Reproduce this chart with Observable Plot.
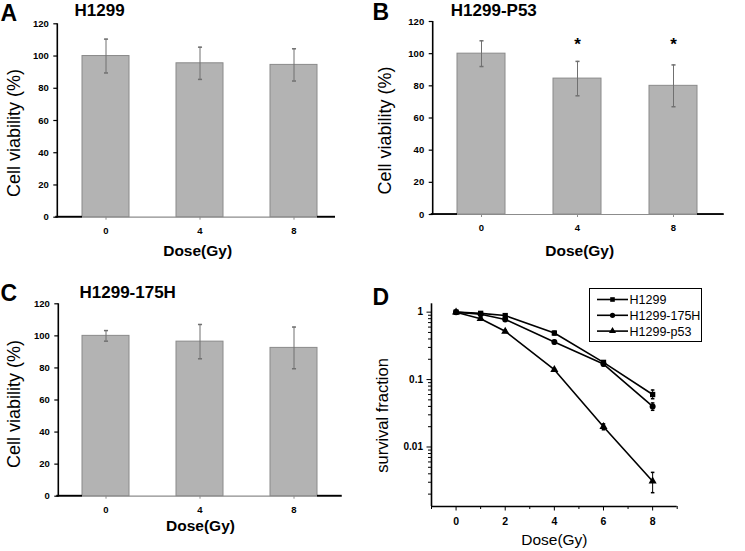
<!DOCTYPE html>
<html><head><meta charset="utf-8">
<script src="https://cdn.jsdelivr.net/npm/d3@7"></script>
<script src="https://cdn.jsdelivr.net/npm/@observablehq/plot@0.6"></script>
<style>
body{margin:0;background:#fff;}
#fig{position:relative;width:745px;height:551px;font-family:"Liberation Sans",Arial,sans-serif;background:#fff;overflow:hidden;}
.panel{position:absolute;}
#legend{position:absolute;left:589px;top:288px;width:111px;height:52px;border:1.3px solid #000;background:#fff;}
</style></head><body><div id="fig"></div>
<script>
// ---- data: bar panels ----
const doses = ["0", "4", "8"];
const viabA = [100, 95.5, 94.5];
const errA = [10.5, 10, 10];
const viabB = [100, 84.5, 80];
const errB = [8, 10.7, 13];
const sigB = ["", "*", "*"];
const sigLevel = 110;
const viabC = [100, 96.4, 92.5];
const errC = [3.3, 10.7, 13];
const yTicksBar = [0, 20, 40, 60, 80, 100, 120];

// ---- data: survival panel ----
const dosesD = [0, 1, 2, 4, 6, 8];
const seriesNames = ["H1299", "H1299-175H", "H1299-p53"];
const seriesSymbols = ["square", "circle", "triangle"];
const sfH1299 = [1, 0.96, 0.89, 0.49, 0.18, 0.06];
const loH1299 = [0.95, 0.93, 0.85, 0.46, 0.17, 0.052];
const hiH1299 = [1.05, 0.99, 0.93, 0.52, 0.19, 0.07];
const sf175H = [1, 0.93, 0.78, 0.36, 0.17, 0.04];
const lo175H = [0.96, 0.9, 0.75, 0.34, 0.16, 0.035];
const hi175H = [1.04, 0.96, 0.81, 0.38, 0.18, 0.045];
const sfP53 = [1, 0.80, 0.52, 0.14, 0.02, 0.0031];
const loP53 = [0.95, 0.77, 0.5, 0.135, 0.018, 0.0021];
const hiP53 = [1.06, 0.83, 0.54, 0.145, 0.022, 0.0042];
const xTicksD = [0, 2, 4, 6, 8];
const xMinorD = [-1, 1, 3, 5, 7, 9];
const yTicksD = [1, 0.1, 0.01];

const FONT = "Liberation Sans, Arial, Helvetica, sans-serif";
const capSymbol = {draw(ctx, size) { const w = Math.sqrt(size); ctx.moveTo(-w / 2, 0); ctx.lineTo(w / 2, 0); }};

function axisLinesBar() {
  return (index, scales, values, dims) => {
    const {marginLeft: ml, marginTop: mt, marginBottom: mb, marginRight: mr, width, height} = dims;
    const g = d3.create("svg:g");
    const y0 = height - mb;
    g.append("line").attr("x1", ml).attr("x2", ml).attr("y1", mt).attr("y2", y0 + 0.8)
      .attr("stroke", "#000").attr("stroke-width", 1.6);
    const step = scales.x(doses[1]) - scales.x(doses[0]);
    const bw = step / 2;
    g.append("line").attr("x1", ml - 2).attr("x2", scales.x(doses[0])).attr("y1", y0).attr("y2", y0)
      .attr("stroke", "#000").attr("stroke-width", 1.8);
    g.append("line").attr("x1", scales.x(doses[2]) + bw).attr("x2", width - mr).attr("y1", y0).attr("y2", y0)
      .attr("stroke", "#000").attr("stroke-width", 1.8);
    return g.node();
  };
}

function barPanel(o) {
  const data = doses.map((d, i) => ({dose: d, v: o.values[i], e: o.errs[i], s: o.sig ? o.sig[i] : ""}));
  const marks = [
    Plot.ruleY([0], {stroke: "#8c8c8c", strokeWidth: 1.2}),
    Plot.barY(data, {x: "dose", y: "v", fill: "#b3b3b3", stroke: "#8a8a8a", strokeWidth: 1}),
    Plot.ruleX(data, {x: "dose", y1: d => d.v - d.e, y2: d => d.v + d.e, stroke: "#707070", strokeWidth: 1}),
    Plot.dot(data, {x: "dose", y: d => d.v + d.e, symbol: capSymbol, r: 2.3, stroke: "#707070", fill: "none"}),
    Plot.dot(data, {x: "dose", y: d => d.v - d.e, symbol: capSymbol, r: 2.3, stroke: "#707070", fill: "none"}),
    Plot.axisY({ticks: yTicksBar, tickSize: 4, tickPadding: 5, fontSize: 9.5, fontWeight: "bold", stroke: "#000", strokeWidth: 1.2, fill: "#000", label: null}),
    Plot.axisX({tickSize: 3, tickPadding: 7, fontSize: 9.5, fontWeight: "bold", stroke: "#8c8c8c", fill: "#000", label: null}),
    axisLinesBar(),
    Plot.text([o.yTitle], {frameAnchor: "left", rotate: -90, dx: o.ytDx, dy: o.ytDy, fontSize: 18, fill: "#000", textAnchor: "middle", lineAnchor: "middle"}),
    Plot.text(["Dose(Gy)"], {frameAnchor: "bottom", dx: o.xtDx, dy: o.xtDy, fontSize: 15.5, fontWeight: "bold", fill: "#000", lineAnchor: "middle"}),
    Plot.text([o.letter], {frameAnchor: "top-left", dx: o.lDx, dy: o.lDy, fontSize: 23, fontWeight: "bold", fill: "#000", textAnchor: "start", lineAnchor: "top"}),
    Plot.text([o.title], {frameAnchor: "top-left", dx: o.tDx, dy: o.tDy, fontSize: 17, fontWeight: "bold", fill: "#000", textAnchor: "start", lineAnchor: "top"})
  ];
  if (o.sig) marks.push(Plot.text(data, {x: "dose", y: () => sigLevel, text: "s", fontSize: 17, fontWeight: "bold", fill: "#000", lineAnchor: "top"}));
  return Plot.plot({
    width: o.width, height: o.height,
    marginLeft: o.ml, marginTop: o.mt, marginBottom: o.mb, marginRight: o.mr,
    style: {fontFamily: FONT, background: "transparent", overflow: "visible", color: "#000"},
    x: {type: "band", domain: doses, range: o.xr, paddingInner: 0.5, paddingOuter: 0.25, axis: null},
    y: {domain: [0, 120], axis: null},
    marks
  });
}

const fig = document.getElementById("fig");
function place(node, left, top) {
  node.classList.add("panel");
  node.style.left = left + "px"; node.style.top = top + "px";
  node.style.maxWidth = "none";
  fig.appendChild(node);
}

place(barPanel({values: viabA, errs: errA, letter: "A", title: "H1299", yTitle: "Cell viability (%)",
  width: 372, height: 270, ml: 57.3, mt: 23.3, mb: 53.3, mr: 37, xr: [57.3, 341.7],
  ytDx: -44, ytDy: 12.5, xtDx: 1, xtDy: 33.5, lDx: -57.3, lDy: -18.8, tDx: 16.7, tDy: -20.3}), 0, 0);

place(barPanel({values: viabB, errs: errB, sig: sigB, letter: "B", title: "H1299-P53", yTitle: "Cell viability (%)",
  width: 373, height: 270, ml: 60.7, mt: 21, mb: 56, mr: 21.3, xr: [60.7, 349.6],
  ytDx: -47.5, ytDy: 12.5, xtDx: 1, xtDy: 36.5, lDx: -60.7, lDy: -18, tDx: 17.6, tDy: -17.7}), 372, 0);

place(barPanel({values: viabC, errs: errC, letter: "C", title: "H1299-175H", yTitle: "Cell viability (%)",
  width: 372, height: 281, ml: 58.3, mt: 33.3, mb: 55.3, mr: 30.3, xr: [57.3, 341.7],
  ytDx: -45, ytDy: 4, xtDx: 0, xtDy: 30, lDx: -58.3, lDy: -19.3, tDx: 20.7, tDy: -18.3}), 0, 270);

// ---- panel D ----
const seriesY = [sfH1299, sf175H, sfP53];
const seriesLo = [loH1299, lo175H, loP53];
const seriesHi = [hiH1299, hi175H, hiP53];
const dData = [];
seriesNames.forEach((name, k) => dosesD.forEach((x, i) => dData.push({
  name, sym: seriesSymbols[k], x, y: seriesY[k][i], lo: seriesLo[k][i], hi: seriesHi[k][i]})));
const yDomD = [0.00131, 1.33];
const yMinorD = [];
[0.001, 0.01, 0.1, 1].forEach(b => [2,3,4,5,6,7,8,9].forEach(k => { const v = k * b; if (v > yDomD[0] && v < yDomD[1]) yMinorD.push(v); }));

const plotD = Plot.plot({
  width: 373, height: 281, marginLeft: 59, marginTop: 33.3, marginBottom: 45, marginRight: 68.3,
  style: {fontFamily: FONT, background: "transparent", overflow: "visible", color: "#000"},
  x: {domain: [-1, 9], axis: null},
  y: {type: "log", domain: yDomD, axis: null},
  symbol: {domain: seriesNames, range: seriesSymbols},
  marks: [
    Plot.ruleX([-1], {stroke: "#000", strokeWidth: 1.6}),
    Plot.ruleY([yDomD[0]], {stroke: "#000", strokeWidth: 1.6}),
    Plot.axisY({ticks: yTicksD, tickFormat: d => String(d), tickSize: 4.5, tickPadding: 4, fontSize: 10, fontWeight: "bold", stroke: "#000", fill: "#000", label: null}),
    Plot.axisY({ticks: yMinorD, tickFormat: () => "", tickSize: 3, stroke: "#000", label: null}),
    Plot.axisX({ticks: xTicksD, tickSize: 4.5, tickPadding: 7, fontSize: 10.5, fontWeight: "bold", stroke: "#000", fill: "#000", label: null}),
    Plot.axisX({ticks: xMinorD, tickFormat: () => "", tickSize: 3, stroke: "#000", label: null}),
    Plot.ruleX(dData, {x: "x", y1: "lo", y2: "hi", stroke: "#000", strokeWidth: 1}),
    Plot.dot(dData, {x: "x", y: "lo", symbol: capSymbol, r: 2, stroke: "#000", fill: "none"}),
    Plot.dot(dData, {x: "x", y: "hi", symbol: capSymbol, r: 2, stroke: "#000", fill: "none"}),
    Plot.line(dData, {x: "x", y: "y", z: "name", stroke: "#000", strokeWidth: 1.6}),
    Plot.dot(dData, {x: "x", y: "y", symbol: "name", r: 3, fill: "#000", stroke: "none"}),
    Plot.text(["survival fraction"], {frameAnchor: "left", rotate: -90, dx: -49, dy: 10.3, fontSize: 16.5, fill: "#000", textAnchor: "middle", lineAnchor: "middle"}),
    Plot.text(["Dose(Gy)"], {frameAnchor: "bottom", dx: 0, dy: 34, fontSize: 15.5, fill: "#000", lineAnchor: "middle"}),
    Plot.text(["D"], {frameAnchor: "top-left", dx: -59, dy: -15.3, fontSize: 23, fontWeight: "bold", fill: "#000", textAnchor: "start", lineAnchor: "top"})
  ]
});
place(plotD, 372, 270);

// ---- legend for D ----
const leg = document.createElement("div");
leg.id = "legend";
fig.appendChild(leg);
const lsvg = d3.select(leg).append("svg").attr("width", 111).attr("height", 52).style("position", "absolute").style("left", 0).style("top", 0)
  .style("font-family", FONT);
const symMap = {square: d3.symbolSquare, circle: d3.symbolCircle, triangle: d3.symbolTriangle};
seriesNames.forEach((name, k) => {
  const cy = 10.5 + k * 15.8;
  lsvg.append("line").attr("x1", 7).attr("x2", 38).attr("y1", cy).attr("y2", cy).attr("stroke", "#000").attr("stroke-width", 1.6);
  lsvg.append("path").attr("d", d3.symbol(symMap[seriesSymbols[k]], Math.PI * 2.6 * 2.6)()).attr("transform", `translate(22.5,${cy})`).attr("fill", "#000");
  lsvg.append("text").attr("x", 39.5).attr("y", cy).attr("dy", "0.36em").attr("font-size", 12.5).attr("fill", "#000").text(name);
});
</script>
</body></html>
